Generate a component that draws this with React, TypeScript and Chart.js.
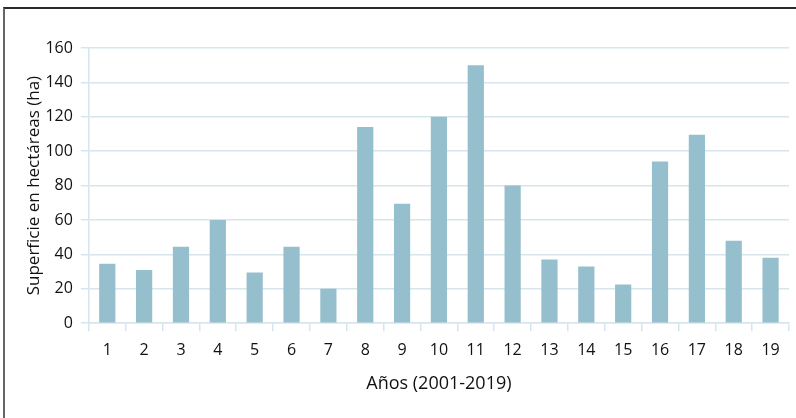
import React, { useEffect, useRef } from "react";
import { Chart, registerables } from "chart.js";

Chart.register(...registerables);

const categories = ["1","2","3","4","5","6","7","8","9","10","11","12","13","14","15","16","17","18","19"];
const values = [34.5, 31, 44.5, 60, 29.5, 44.5, 20, 114, 69.5, 120, 150, 80, 37, 33, 22.5, 94, 109.5, 48, 38];
const yTitle = "Superficie en hectáreas (ha)";
const xTitle = "Años (2001-2019)";

const FONT = "'Open Sans', 'Noto Sans', sans-serif";
const GRID = "#d7e6ec";
const BAR = "#95bfcd";
const TEXT = "#111";

export default function App() {
  const ref = useRef<HTMLCanvasElement | null>(null);
  useEffect(() => {
    if (!ref.current) return;
    const chart = new Chart(ref.current, {
      type: "bar",
      data: {
        labels: categories,
        datasets: [
          {
            data: values,
            backgroundColor: BAR,
            borderWidth: 0,
            categoryPercentage: 1,
            barPercentage: 0.44,
          },
        ],
      },
      options: {
        animation: false,
        responsive: false,
        maintainAspectRatio: false,
        devicePixelRatio: 1,
        layout: { padding: { left: 24, top: 48, right: 7, bottom: 23 } },
        plugins: { legend: { display: false }, tooltip: { enabled: false } },
        scales: {
          x: {
            offset: true,
            grid: {
              offset: true,
              drawOnChartArea: false,
              drawTicks: true,
              tickLength: 8,
              color: GRID,
              lineWidth: 1.5,
            },
            border: { display: true, color: GRID, width: 1.5 },
            ticks: { color: TEXT, font: { family: FONT, size: 16 }, padding: 10 },
            title: {
              display: true,
              text: xTitle,
              color: TEXT,
              font: { family: FONT, size: 18 },
              padding: { top: 3, bottom: 0 },
            },
          },
          y: {
            min: 0,
            max: 160,
            ticks: { stepSize: 20, color: TEXT, font: { family: FONT, size: 16 }, padding: 8 },
            grid: { color: GRID, lineWidth: 1.5, tickLength: 8, drawTicks: true },
            border: { display: true, color: GRID, width: 1.5 },
            title: {
              display: true,
              text: yTitle,
              color: TEXT,
              font: { family: FONT, size: 17 },
              padding: { top: 0, bottom: -7 },
            },
          },
        },
      },
    });
    return () => chart.destroy();
  }, []);
  return (
    <div style={{ position: "fixed", left: 0, top: 0, width: 796, height: 418, background: "#fff", overflow: "hidden" }}>
      <div
        style={{
          position: "absolute",
          left: 3,
          top: 7,
          width: 900,
          height: 500,
          borderTop: "2px solid #2a2a2a",
          borderLeft: "2px solid #666",
        }}
      />
      <canvas ref={ref} width={796} height={418} style={{ position: "absolute", left: 0, top: 0, width: 796, height: 418 }} />
    </div>
  );
}
